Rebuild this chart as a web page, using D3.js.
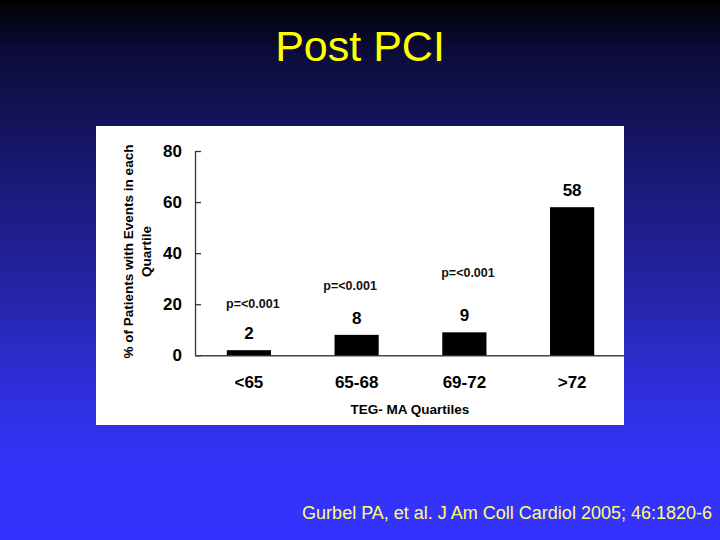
<!DOCTYPE html>
<html>
<head>
<meta charset="utf-8">
<script src="https://cdn.jsdelivr.net/npm/d3@7"></script>
<style>
  html, body { margin: 0; padding: 0; }
  body { width: 720px; height: 540px; overflow: hidden; }
</style>
</head>
<body>
<script>
// Data
const quartiles = ["<65", "65-68", "69-72", ">72"];
const eventPct = [2, 8, 9, 58];
const pValues = ["p=<0.001", "p=<0.001", "p=<0.001", null];
const yTicks = [0, 20, 40, 60, 80];

const width = 720;
const height = 540;

const svg = d3
  .select("body")
  .append("svg")
  .attr("width", width)
  .attr("height", height)
  .attr("viewBox", [0, 0, width, height]);

// Slide background: black at the top fading to bright blue
const grad = svg
  .append("defs")
  .append("linearGradient")
  .attr("id", "bg")
  .attr("x1", 0).attr("y1", 0)
  .attr("x2", 0).attr("y2", 1);
[
  [0, "#000000"],
  [0.1, "#0c0c3c"],
  [0.3, "#18186e"],
  [0.5, "#22229c"],
  [0.7, "#2e2ed6"],
  [0.85, "#3333f8"],
  [1, "#3333ff"],
].forEach(([o, c]) => grad.append("stop").attr("offset", o).attr("stop-color", c));

svg.append("rect").attr("width", width).attr("height", height).attr("fill", "url(#bg)");

// Title
svg
  .append("text")
  .attr("x", 360)
  .attr("y", 61)
  .attr("text-anchor", "middle")
  .attr("fill", "#ffff00")
  .style("font", "43px 'Liberation Sans', Arial, sans-serif")
  .text("Post PCI");

// Citation
svg
  .append("text")
  .attr("x", 712)
  .attr("y", 519)
  .attr("text-anchor", "end")
  .attr("fill", "#ffff70")
  .style("font", "18px 'Liberation Sans', Arial, sans-serif")
  .text("Gurbel PA, et al. J Am Coll Cardiol 2005; 46:1820-6");

// White chart panel
svg
  .append("rect")
  .attr("x", 96)
  .attr("y", 126)
  .attr("width", 528)
  .attr("height", 299)
  .attr("fill", "#ffffff");

// Scales
const x = d3
  .scaleBand()
  .domain(quartiles)
  .range([195, 626])
  .paddingInner(0.59)
  .paddingOuter(0.295);

const y = d3.scaleLinear().domain([0, 80]).range([355.3, 151]);

const font = "'Liberation Sans', Arial, Helvetica, sans-serif";

// Y axis, ticks pointing into the plot
const yAxis = svg
  .append("g")
  .attr("transform", "translate(195,0)")
  .call(d3.axisLeft(y).tickValues(yTicks).tickSizeInner(-6).tickSizeOuter(0).tickPadding(13));
yAxis.selectAll("path, line").attr("stroke", "#333").attr("stroke-width", 1.3);
yAxis
  .selectAll("text")
  .attr("fill", "#000")
  .style("font", `bold 17px ${font}`);

// X axis: baseline with category labels
const xAxis = svg
  .append("g")
  .attr("transform", `translate(0,${y(0)})`)
  .call(d3.axisBottom(x).tickSize(0).tickPadding(21));
xAxis.select(".domain").attr("stroke", "#444").attr("stroke-width", 1.5);
xAxis
  .selectAll("text")
  .attr("fill", "#000")
  .style("font", `bold 17px ${font}`);

// Bars
svg
  .append("g")
  .selectAll("rect")
  .data(eventPct)
  .join("rect")
  .attr("x", (d, i) => x(quartiles[i]))
  .attr("y", (d) => y(d))
  .attr("width", x.bandwidth())
  .attr("height", (d) => y(0) - y(d))
  .attr("fill", "#000");

// Value labels above bars
svg
  .append("g")
  .selectAll("text")
  .data(eventPct)
  .join("text")
  .attr("x", (d, i) => x(quartiles[i]) + x.bandwidth() / 2)
  .attr("y", (d) => y(d) - 11)
  .attr("text-anchor", "middle")
  .attr("fill", "#000")
  .style("font", `bold 17px ${font}`)
  .text((d) => d);

// p-value notes, placed at the heights they sit on the slide (axis units)
const pLabelAt = [18.6, 25.6, 30.6];
const pLabelShift = [4, -6.5, 3.6];
svg
  .append("g")
  .selectAll("text")
  .data(pValues.filter((p) => p))
  .join("text")
  .attr("x", (d, i) => x(quartiles[i]) + x.bandwidth() / 2 + pLabelShift[i])
  .attr("y", (d, i) => y(pLabelAt[i]))
  .attr("text-anchor", "middle")
  .attr("fill", "#111")
  .style("font", `bold 12.5px ${font}`)
  .text((d) => d);

// Axis titles
svg
  .append("text")
  .attr("x", 410)
  .attr("y", 414)
  .attr("text-anchor", "middle")
  .attr("fill", "#000")
  .style("font", `bold 13.5px ${font}`)
  .text("TEG- MA Quartiles");

const yTitle = svg
  .append("text")
  .attr("transform", "translate(133.2,251.5) rotate(-90)")
  .attr("text-anchor", "middle")
  .attr("fill", "#000")
  .style("font", `bold 13.5px ${font}`);
yTitle.append("tspan").attr("x", 0).attr("y", 0).text("% of Patients with Events in each");
yTitle.append("tspan").attr("x", 0).attr("y", 18.2).text("Quartile");
</script>
</body>
</html>
